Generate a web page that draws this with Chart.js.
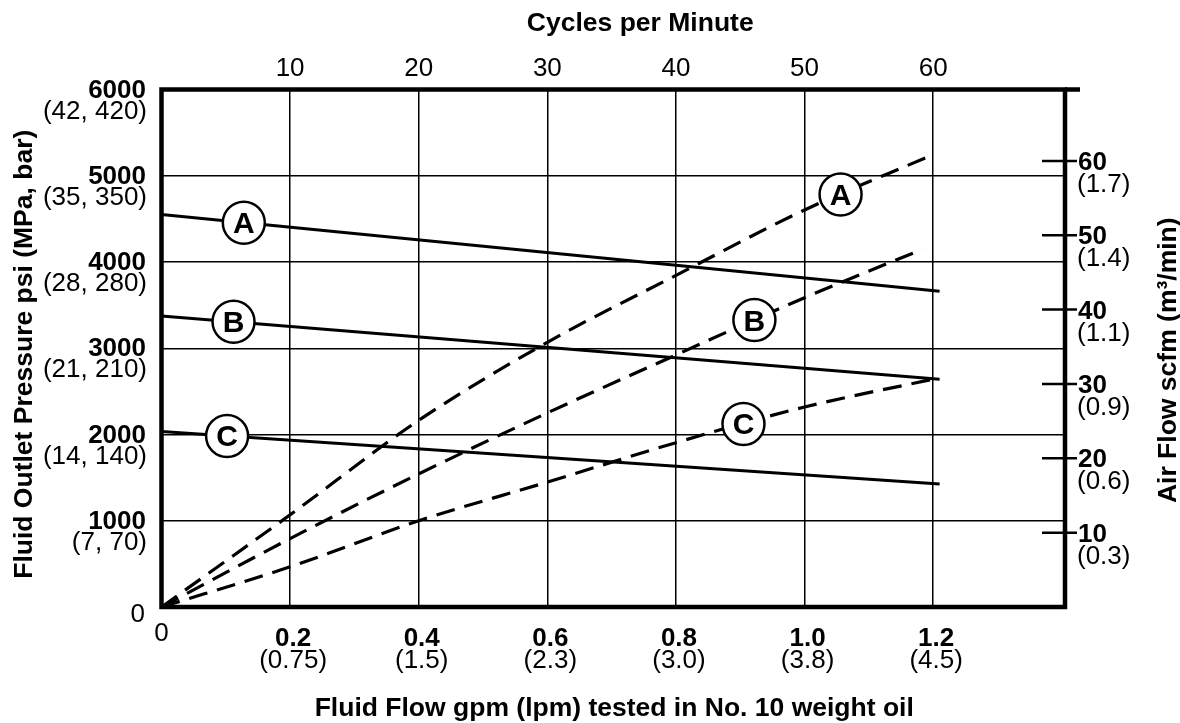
<!DOCTYPE html>
<html>
<head>
<meta charset="utf-8">
<script src="https://cdn.jsdelivr.net/npm/chart.js@4.4.1/dist/chart.umd.min.js"></script>
<style>
  html, body { margin: 0; padding: 0; background: #fff; }
  #wrap { width: 1180px; height: 723px; }
</style>
</head>
<body>
<div id="wrap"><canvas id="c" width="1180" height="723"></canvas></div>
<script>
// ---- Fluid outlet pressure (psi) vs fluid flow (gpm), solid lines ----
const pressureFlow = [0, 1.21];
const pressureA = [4550, 3660];
const pressureB = [3375, 2640];
const pressureC = [2035, 1425];

// ---- Air consumption (scfm) vs fluid flow (gpm), dashed lines ----
const airFlowA = [0, 0.2, 0.4, 0.6, 0.8, 1.0, 1.196];
const airA     = [0, 12.4, 25.1, 35.6, 44.6, 53.4, 60.7];
const airFlowB = [0, 0.2, 0.4, 0.6, 0.8, 1.0, 1.183];
const airB     = [0, 9.2, 17.9, 26.1, 33.9, 41.6, 48.1];
const airFlowC = [0, 0.2, 0.4, 0.6, 0.8, 1.0, 1.209];
const airC     = [0, 5.4, 11.6, 16.8, 22.1, 26.9, 30.8];

// curve letters and the flow value where each letter sits on its curve
const curveLetters = ['A', 'B', 'C'];
const pressureLetterAt = [0.128, 0.112, 0.102];
const airLetterAt = [1.056, 0.922, 0.905];

// ---- tick labels ----
const psiTicks = [0, 1000, 2000, 3000, 4000, 5000, 6000];
const psiMetric = ['', '(7, 70)', '(14, 140)', '(21, 210)', '(28, 280)', '(35, 350)', '(42, 420)'];
const gpmTicks = [0, 0.2, 0.4, 0.6, 0.8, 1.0, 1.2];
const gpmLabels = ['0', '0.2', '0.4', '0.6', '0.8', '1.0', '1.2'];
const lpmLabels = ['', '(0.75)', '(1.5)', '(2.3)', '(3.0)', '(3.8)', '(4.5)'];
const cycleTicks = [10, 20, 30, 40, 50, 60];
const scfmTicks = [10, 20, 30, 40, 50, 60];
const m3Labels = ['(0.3)', '(0.6)', '(0.9)', '(1.1)', '(1.4)', '(1.7)'];

const titleTop = 'Cycles per Minute';
const titleBottom = 'Fluid Flow gpm (lpm) tested in No. 10 weight oil';
const titleLeft = 'Fluid Outlet Pressure psi (MPa, bar)';
const titleRight = 'Air Flow scfm (m\u00B3/min)';

const GPM_MAX = 1.405;
const CYCLES_PER_GPM = 50;
const FONT = '"Liberation Sans", Arial, Helvetica, sans-serif';

function pts(xs, ys) { return xs.map((x, i) => ({ x: x, y: ys[i] })); }

const solid = { borderColor: '#000', borderWidth: 3, pointRadius: 0, fill: false, xAxisID: 'x', yAxisID: 'y' };
const dashed = { borderColor: '#000', borderWidth: 3.2, pointRadius: 0, fill: false, borderDash: [19, 10],
                 cubicInterpolationMode: 'monotone', xAxisID: 'x', yAxisID: 'y2' };

const datasets = [
  Object.assign({ label: 'A', data: pts(pressureFlow, pressureA) }, solid),
  Object.assign({ label: 'B', data: pts(pressureFlow, pressureB) }, solid),
  Object.assign({ label: 'C', data: pts(pressureFlow, pressureC) }, solid),
  Object.assign({ label: 'A air', data: pts(airFlowA, airA) }, dashed),
  Object.assign({ label: 'B air', data: pts(airFlowB, airB) }, dashed),
  Object.assign({ label: 'C air', data: pts(airFlowC, airC) }, dashed)
];

function text(ctx, s, x, y, align, weight, size) {
  ctx.font = weight + ' ' + size + 'px ' + FONT;
  ctx.textAlign = align;
  ctx.textBaseline = 'alphabetic';
  ctx.fillText(s, x, y);
}

function valueAt(data, x) {
  for (let i = 1; i < data.length; i++) {
    if (x <= data[i].x) {
      const a = data[i - 1], b = data[i];
      return a.y + (b.y - a.y) * (x - a.x) / (b.x - a.x);
    }
  }
  return data[data.length - 1].y;
}

const decorations = {
  id: 'decorations',
  afterDatasetsDraw(chart) {
    const ctx = chart.ctx;
    const a = chart.chartArea;
    const sx = chart.scales.x, sy = chart.scales.y, sy2 = chart.scales.y2, sx2 = chart.scales.x2;
    ctx.save();
    ctx.strokeStyle = '#000';
    ctx.fillStyle = '#000';

    // heavy frame round the plot, top edge running on past the right side
    ctx.lineWidth = 4.5;
    ctx.strokeRect(a.left, a.top, a.right - a.left, a.bottom - a.top);
    ctx.beginPath();
    ctx.moveTo(a.right, a.top);
    ctx.lineTo(a.right + 15, a.top);
    ctx.stroke();

    // air-flow tick marks crossing the right edge
    ctx.lineWidth = 2.5;
    scfmTicks.forEach(v => {
      const y = sy2.getPixelForValue(v);
      ctx.beginPath();
      ctx.moveTo(a.right - 23, y);
      ctx.lineTo(a.right + 12, y);
      ctx.stroke();
    });

    // circled curve letters
    const drawLetter = (ds, xv, yScale, letter) => {
      const cx = sx.getPixelForValue(xv);
      const cy = yScale.getPixelForValue(valueAt(ds.data, xv));
      ctx.beginPath();
      ctx.arc(cx, cy, 21, 0, Math.PI * 2);
      ctx.fillStyle = '#fff';
      ctx.fill();
      ctx.lineWidth = 2.5;
      ctx.strokeStyle = '#000';
      ctx.stroke();
      ctx.fillStyle = '#000';
      text(ctx, letter, cx, cy + 10.5, 'center', 'bold', 30);
    };
    curveLetters.forEach((l, i) => {
      drawLetter(chart.data.datasets[i], pressureLetterAt[i], sy, l);
      drawLetter(chart.data.datasets[i + 3], airLetterAt[i], sy2, l);
    });

    ctx.fillStyle = '#000';
    // left axis: psi with (MPa, bar)
    psiTicks.forEach((v, i) => {
      const y = sy.getPixelForValue(v);
      if (v === 0) {
        text(ctx, '0', 145, y + 15, 'right', 'normal', 26);
      } else {
        text(ctx, String(v), 146, y + 8, 'right', 'bold', 26);
        text(ctx, psiMetric[i], 147, y + 29, 'right', 'normal', 26);
      }
    });

    // bottom axis: gpm with (lpm)
    gpmTicks.forEach((v, i) => {
      const x = sx.getPixelForValue(v);
      if (v === 0) {
        text(ctx, gpmLabels[i], x, 641, 'center', 'normal', 26);
      } else {
        text(ctx, gpmLabels[i], x + 3, 646, 'center', 'bold', 26);
        text(ctx, lpmLabels[i], x + 3, 668, 'center', 'normal', 26);
      }
    });

    // top axis: cycles per minute
    cycleTicks.forEach(c => {
      text(ctx, String(c), sx2.getPixelForValue(c), 76, 'center', 'normal', 26);
    });

    // right axis: scfm with (m3/min)
    scfmTicks.forEach((v, i) => {
      const y = sy2.getPixelForValue(v);
      text(ctx, String(v), a.right + 13, y + 9, 'left', 'bold', 26);
      text(ctx, m3Labels[i], a.right + 12, y + 31, 'left', 'normal', 26);
    });

    // axis titles
    const mid = (a.left + a.right) / 2;
    text(ctx, titleTop, mid + 27, 31, 'center', 'bold', 26.5);
    text(ctx, titleBottom, mid + 1, 716, 'center', 'bold', 26.5);

    ctx.save();
    ctx.translate(32, (a.top + a.bottom) / 2 + 6);
    ctx.rotate(-Math.PI / 2);
    text(ctx, titleLeft, 0, 0, 'center', 'bold', 26.5);
    ctx.restore();

    ctx.save();
    ctx.translate(1176, (a.top + a.bottom) / 2 + 12);
    ctx.rotate(-Math.PI / 2);
    text(ctx, titleRight, 0, 0, 'center', 'bold', 26.5);
    ctx.restore();

    ctx.restore();
  }
};

new Chart(document.getElementById('c'), {
  type: 'line',
  data: { datasets: datasets },
  options: {
    responsive: false,
    animation: false,
    devicePixelRatio: 1,
    layout: { padding: { left: 161.5, right: 115, top: 89.5, bottom: 116 } },
    plugins: { legend: { display: false }, tooltip: { enabled: false } },
    scales: {
      x: {
        type: 'linear', position: 'bottom', min: 0, max: GPM_MAX,
        ticks: { display: false, stepSize: 0.2 },
        afterBuildTicks: s => { s.ticks = s.ticks.filter(t => t.value <= 1.2001); },
        grid: { color: '#000', lineWidth: 1.5, drawTicks: false },
        border: { display: false }
      },
      x2: {
        type: 'linear', position: 'top', display: false,
        min: 0, max: GPM_MAX * CYCLES_PER_GPM
      },
      y: {
        type: 'linear', position: 'left', min: 0, max: 6000,
        ticks: { display: false, stepSize: 1000 },
        grid: { color: '#000', lineWidth: 1.5, drawTicks: false },
        border: { display: false }
      },
      y2: {
        type: 'linear', position: 'right', display: false,
        min: 0, max: 69.6
      }
    }
  },
  plugins: [decorations]
});
</script>
</body>
</html>
